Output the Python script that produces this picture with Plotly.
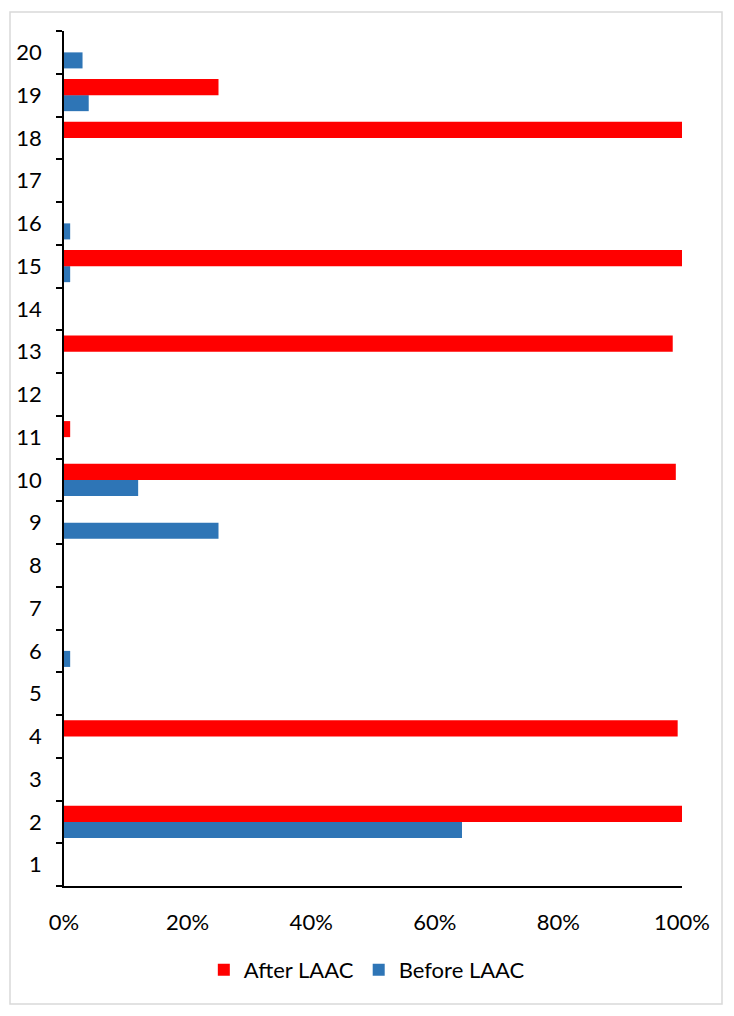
import plotly.graph_objects as go

categories = [str(i) for i in range(1, 21)]
after_laac = [0, 1.00, 0, 0.993, 0, 0, 0, 0, 0, 0.99, 0.01, 0, 0.985, 0, 1.00, 0, 0, 1.00, 0.25, 0]
before_laac = [0, 0.644, 0, 0, 0, 0.01, 0, 0, 0.25, 0.12, 0, 0, 0, 0, 0.01, 0.01, 0, 0, 0.04, 0.03]
x_ticks = [0, 0.2, 0.4, 0.6, 0.8, 1.0]
x_tick_labels = ["0%", "20%", "40%", "60%", "80%", "100%"]

FONT = "Lato"

fig = go.Figure()
fig.add_trace(go.Bar(
    y=categories, x=before_laac, orientation="h", name="Before LAAC",
    marker=dict(color="#2E75B6", line=dict(width=0)), legendrank=2,
))
fig.add_trace(go.Bar(
    y=categories, x=after_laac, orientation="h", name="After LAAC",
    marker=dict(color="#FF0000", line=dict(width=0)), legendrank=1,
))

W, H = 734, 1016
L, R, T, B = 64, 682, 31, 886

def px_x(p):
    return (p - L) / (R - L)

def px_y(p):
    return (B - p) / (B - T)

fig.update_layout(
    width=W, height=H,
    margin=dict(l=L, r=W - R, t=T, b=H - B),
    paper_bgcolor="white", plot_bgcolor="white",
    barmode="group", bargap=0.25, bargroupgap=0,
    font=dict(family=FONT, size=22, color="#000000"),
    showlegend=True,
    legend=dict(
        orientation="h", x=0.49, xanchor="center", y=px_y(970), yanchor="middle",
        font=dict(family=FONT, size=22, color="#000000"),
        itemsizing="constant", traceorder="normal",
    ),
    xaxis=dict(
        range=[0, 1], tickvals=x_ticks, ticktext=x_tick_labels,
        showgrid=False, zeroline=False, showline=True, linecolor="black", linewidth=1.5,
        ticks="", ticklabelstandoff=16, fixedrange=True,
    ),
    yaxis=dict(
        type="category", categoryorder="array", categoryarray=categories,
        showgrid=False, zeroline=False, showline=True, linecolor="black", linewidth=1.5,
        ticks="outside", ticklen=6, tickwidth=1.5, tickcolor="black",
        tickson="boundaries", ticklabelstandoff=16,
    ),
    shapes=[dict(
        type="rect", xref="paper", yref="paper",
        x0=px_x(10), x1=px_x(722), y0=px_y(1004), y1=px_y(12),
        line=dict(color="#D9D9D9", width=1.5), fillcolor="rgba(0,0,0,0)", layer="below",
    )],
)

fig.write_html("out.html")
